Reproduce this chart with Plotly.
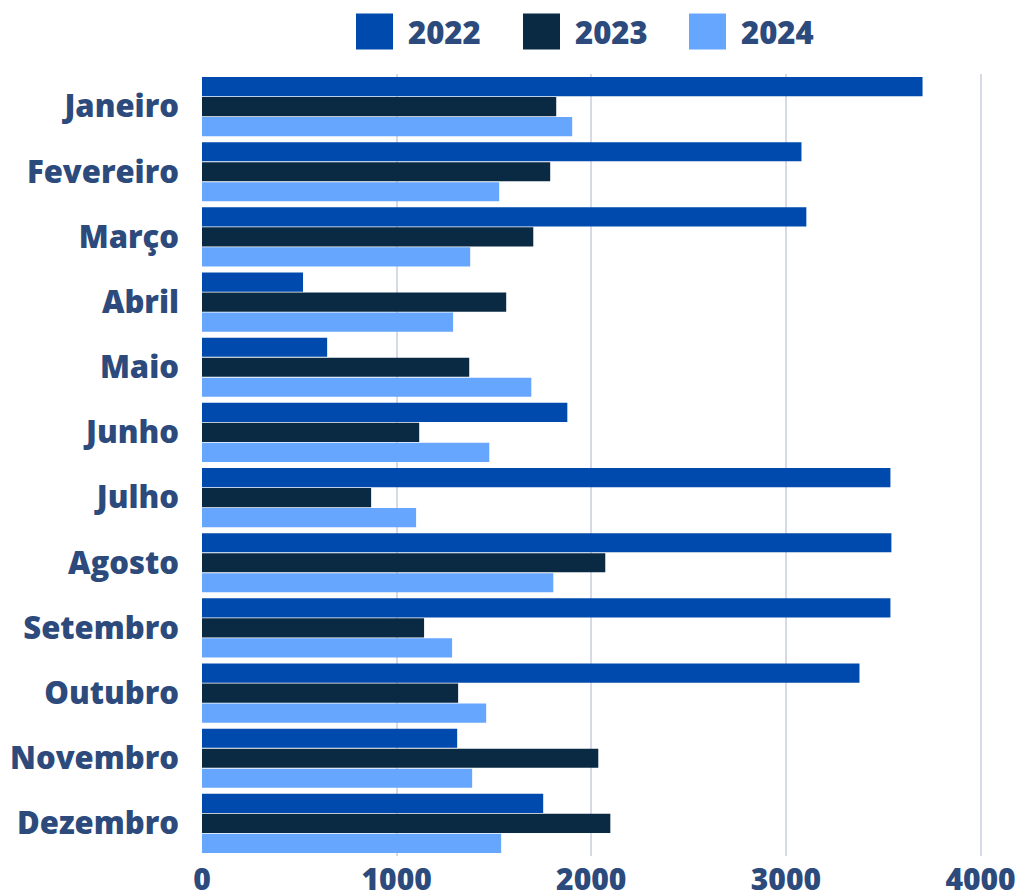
import plotly.graph_objects as go

months = ["Janeiro", "Fevereiro", "Março", "Abril", "Maio", "Junho",
          "Julho", "Agosto", "Setembro", "Outubro", "Novembro", "Dezembro"]
v2022 = [3702, 3080, 3105, 519, 643, 1877, 3537, 3542, 3537, 3378, 1311, 1753]
v2023 = [1820, 1789, 1702, 1563, 1373, 1116, 869, 2072, 1141, 1316, 2036, 2098]
v2024 = [1902, 1527, 1378, 1290, 1692, 1476, 1100, 1805, 1285, 1460, 1388, 1537]
series_names = ["2022", "2023", "2024"]
colors = ["#004AAD", "#0A2A44", "#66A6FF"]
tick_vals = [0, 1000, 2000, 3000, 4000]

text_color = "#2D4A7C"
font_family = "Open Sans"
FW = 800

W, H = 1018, 892
PL, PR, PT, PB = 202, 1000, 73.5, 856.5

fig = go.Figure()
for name, vals, col in zip(series_names, [v2022, v2023, v2024], colors):
    fig.add_trace(go.Bar(
        y=months, x=vals, name=name, orientation="h",
        marker=dict(color=col, line=dict(width=0)),
        showlegend=False,
    ))

# custom legend (large squares), positions in screen pixels
leg_x = [356, 523, 689]
for lx, name, col in zip(leg_x, series_names, colors):
    fig.add_shape(type="rect", xref="paper", yref="paper",
                  x0=(lx - PL) / (PR - PL), x1=(lx + 37 - PL) / (PR - PL),
                  y0=(PB - 49) / (PB - PT), y1=(PB - 13) / (PB - PT),
                  fillcolor=col, line=dict(width=0))
    fig.add_annotation(xref="paper", yref="paper",
                       x=(lx + 50 - PL) / (PR - PL), y=(PB - 31) / (PB - PT),
                       text=name, showarrow=False, xanchor="left", yanchor="middle",
                       font=dict(size=31, color=text_color, family=font_family, weight=FW))

fig.update_layout(
    width=W, height=H,
    margin=dict(l=PL, r=W - PR, t=PT, b=H - PB),
    plot_bgcolor="white", paper_bgcolor="white",
    barmode="group", bargap=0.08, bargroupgap=0.04,
    font=dict(family=font_family, color=text_color, size=30),
)
fig.update_xaxes(
    range=[0, 4100], tickvals=tick_vals, ticktext=[str(v) for v in tick_vals],
    showgrid=True, gridcolor="#D5DAE6", gridwidth=2, zeroline=False,
    showline=False, ticks="", automargin=False, ticklabelstandoff=3,
    tickfont=dict(size=30, color=text_color, family=font_family, weight=FW),
)
fig.update_yaxes(
    autorange="reversed", categoryorder="array", categoryarray=months,
    tickvals=months, ticktext=months, automargin=False,
    showgrid=False, showline=False, ticks="", ticklabelstandoff=22,
    tickfont=dict(size=31, color=text_color, family=font_family, weight=FW),
)

fig.write_html(
    "out.html",
    config={"displayModeBar": False},
    post_script="document.body.style.margin='0';document.body.style.overflow='hidden';",
)
